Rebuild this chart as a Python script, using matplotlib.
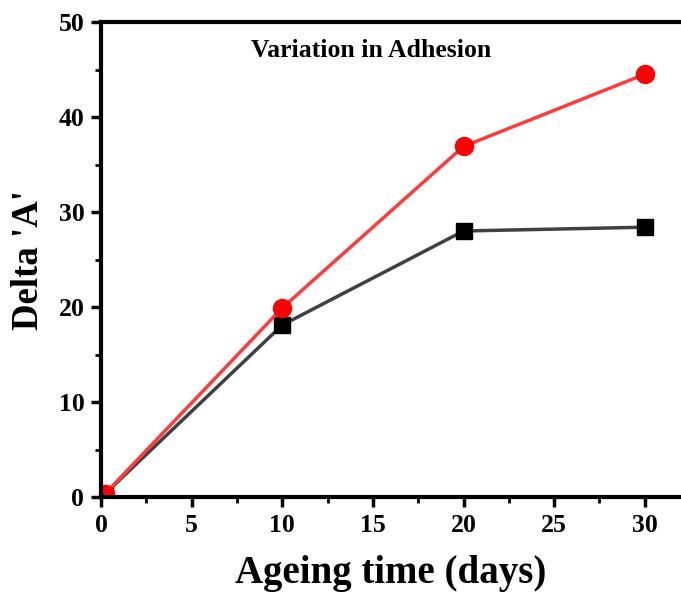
import matplotlib
matplotlib.use('Agg')
import matplotlib.pyplot as plt
from matplotlib.ticker import MultipleLocator

days = [0.2, 10, 20, 30]
black_vals = [0.3, 18.1, 28.0, 28.4]
red_vals = [0.3, 19.9, 36.9, 44.5]

plt.rcParams['font.family'] = 'Liberation Serif'
plt.rcParams['font.weight'] = 'bold'

fig = plt.figure(figsize=(6.81, 5.94), dpi=100)
ax = fig.add_axes([101/681, 97/594, 580/681, 475/594])

ax.plot(days, black_vals, color='#404040', lw=2.5, marker='s', ms=11.5,
        mfc='black', mec='black')
ax.plot(days, red_vals, color='#ff3b3b', lw=2.5, marker='o', ms=13,
        mfc='red', mec='red')

ax.set_xlim(0, 32)
ax.set_ylim(0, 50)
ax.xaxis.set_major_locator(MultipleLocator(5))
ax.xaxis.set_minor_locator(MultipleLocator(2.5))
ax.yaxis.set_major_locator(MultipleLocator(10))
ax.yaxis.set_minor_locator(MultipleLocator(5))
ax.tick_params(which='major', direction='out', length=7, width=2.5, labelsize=18.5)
ax.tick_params(axis='x', which='major', pad=5)
ax.tick_params(axis='y', which='major', pad=5)
ax.tick_params(which='minor', direction='out', length=4, width=2)
for s in ['left', 'bottom', 'top']:
    ax.spines[s].set_linewidth(3)
ax.spines['right'].set_visible(False)

ax.set_xlabel('Ageing time (days)', fontsize=28, fontweight='bold', labelpad=13)
ax.set_ylabel("Delta 'A'", fontsize=26.5, fontweight='bold', labelpad=9)
ax.text(14.9, 46.3, 'Variation in Adhesion', ha='center', va='baseline',
        fontsize=18.5, fontweight='bold')

fig.savefig('out.png', dpi=100)
